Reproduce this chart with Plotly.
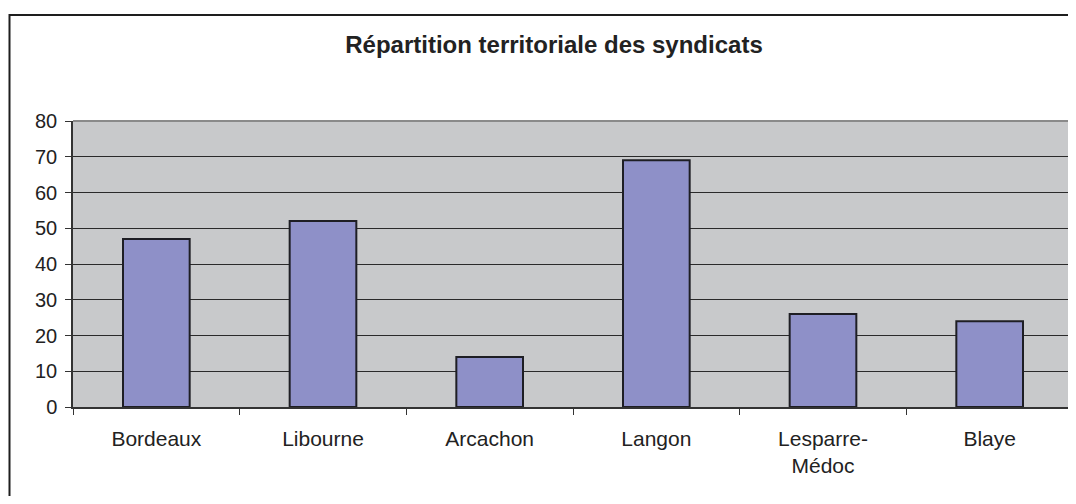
import plotly.graph_objects as go

categories = ["Bordeaux", "Libourne", "Arcachon", "Langon", "Lesparre-<br>Médoc", "Blaye"]
values = [47, 52, 14, 69, 26, 24]
y_ticks = [0, 10, 20, 30, 40, 50, 60, 70, 80]

FONT = "Liberation Sans, Arial, sans-serif"

W, H = 1068, 488
L, R, T, B = 65, 3, 113, 89
PW, PH = W - L - R, H - T - B

fig = go.Figure()
fig.add_trace(go.Bar(
    x=categories, y=values, width=0.4,
    marker=dict(color="#8E90C8", line=dict(color="#1E1E24", width=2)),
    hoverinfo="x+y",
))

fig.update_layout(
    width=W, height=H,
    margin=dict(l=L, r=R, t=T, b=B),
    paper_bgcolor="white",
    plot_bgcolor="#C8C9CB",
    showlegend=False,
    bargap=0.6,
    title=dict(
        text="<b>Répartition territoriale des syndicats</b>",
        font=dict(family=FONT, size=24, color="#222222"),
        x=546 / W, xref="container", xanchor="center",
        y=1 - 37 / H, yref="container", yanchor="middle",
    ),
    font=dict(family=FONT, size=20, color="#222222"),
)

fig.update_xaxes(
    showgrid=False,
    showline=True, linecolor="#333333", linewidth=1.5,
    ticks="outside", ticklen=6, tickcolor="#333333", tickwidth=1,
    tickson="boundaries",
    tickfont=dict(family=FONT, size=21, color="#222222"),
    ticklabelstandoff=12,
    fixedrange=True,
)
fig.update_yaxes(
    range=[0, 80], tickvals=y_ticks,
    showgrid=True, gridcolor="#2A2A2A", gridwidth=1,
    showline=True, linecolor="#333333", linewidth=1.5,
    ticks="outside", ticklen=6, tickcolor="#333333", tickwidth=1,
    tickfont=dict(family=FONT, size=20, color="#222222"),
    ticklabelstandoff=4,
    zeroline=False,
    fixedrange=True,
)

# plot-area border (top and right, grey)
fig.add_shape(type="line", xref="paper", yref="paper", x0=0, x1=1, y0=1, y1=1,
              line=dict(color="#8A8A8A", width=2), layer="above")
fig.add_shape(type="line", xref="paper", yref="paper", x0=1, x1=1, y0=0, y1=1,
              line=dict(color="#8A8A8A", width=2), layer="above")

# outer chart border (cropped at right and bottom in the reference)
fig.add_shape(type="rect", xref="paper", yref="paper",
              x0=(1.5 - L) / PW, x1=1.2,
              y0=-1.0, y1=(PH + T - 7) / PH,
              line=dict(color="#1E1E1E", width=2), fillcolor="rgba(0,0,0,0)",
              layer="above")

fig.write_html("out.html")
